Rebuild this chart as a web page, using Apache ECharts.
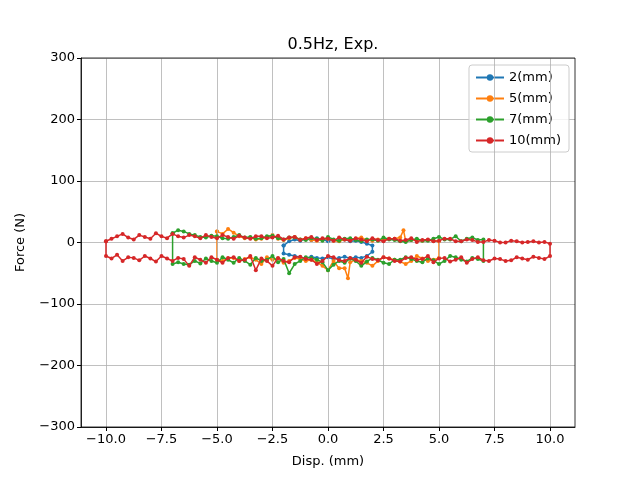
<!DOCTYPE html>
<html>
<head>
<meta charset="utf-8">
<script src="https://cdn.jsdelivr.net/npm/echarts@6/dist/echarts.min.js"></script>
<style>html,body{margin:0;padding:0;background:#fff}#c{width:640px;height:480px}</style>
</head>
<body>
<div id="c"></div>
<script>
// tick labels
const xTicks = [-10, -7.5, -5, -2.5, 0, 2.5, 5, 7.5, 10]
const seriesNames = ['2(mm)', '5(mm)', '7(mm)', '10(mm)']
const colors = ['#1f77b4', '#ff7f0e', '#2ca02c', '#d62728']

// 2mm loop: upper branch then lower branch
const loop2 = [
  [-2,-5],[-1.75,2],[-1.5,5],[-1.25,3],[-1,6],[-0.75,4],[-0.5,7],[-0.25,5],[0,2],[0.25,4],[0.5,3],[0.75,5],[1,2],[1.25,3],[1.5,1],[1.75,-2],[2,-5],
  [2,-15],[1.75,-22],[1.5,-25],[1.25,-24],[1,-26],[0.75,-23],[0.5,-25],[0.25,-27],[0,-24],[-0.25,-26],[-0.5,-25],[-0.75,-23],[-1,-26],[-1.25,-24],[-1.5,-22],[-1.75,-20],[-2,-18],[-2,-5]
]
// 5mm loop
const loop5 = [
  [-5,18],[-4.75,14],[-4.5,22],[-4.25,16],[-4,10],[-3.75,7],[-3.5,8],[-3.25,5],[-3,6],[-2.75,9],[-2.5,12],[-2.25,6],[-2,4],[-1.75,7],[-1.5,9],[-1.25,5],[-1,7],[-0.75,4],[-0.5,3],[-0.25,5],[0,6],[0.25,3],[0.5,2],[0.75,5],[1,4],[1.25,6],[1.5,8],[1.75,4],[2,3],[2.25,5],[2.5,4],[2.75,6],[3,6],[3.25,8],[3.4,20],[3.5,2],[3.75,4],[4,5],[4.25,3],[4.5,4],[4.75,3],[5,2],
  [5,-25],[4.75,-28],[4.5,-30],[4.25,-26],[4,-22],[3.75,-30],[3.5,-35],[3.25,-31],[3,-28],[2.75,-26],[2.5,-24],[2.25,-30],[2,-38],[1.75,-33],[1.5,-30],[1.25,-28],[1,-32],[0.9,-58],[0.75,-42],[0.5,-42],[0.25,-30],[0,-45],[-0.25,-38],[-0.5,-32],[-0.75,-28],[-1,-30],[-1.25,-27],[-1.5,-25],[-1.75,-30],[-2,-33],[-2.25,-26],[-2.5,-28],[-2.75,-24],[-3,-35],[-3.25,-28],[-3.5,-24],[-3.75,-27],[-4,-30],[-4.25,-25],[-4.5,-26],[-4.75,-30],[-5,-28],[-5,18]
]
// 7mm loop
const loop7 = [
  [-7,15],[-6.75,20],[-6.5,18],[-6.25,14],[-6,12],[-5.75,9],[-5.5,8],[-5.25,11],[-5,10],[-4.75,7],[-4.5,6],[-4.25,9],[-4,12],[-3.75,8],[-3.5,9],[-3.25,6],[-3,7],[-2.75,10],[-2.5,11],[-2.25,7],[-2,5],[-1.75,8],[-1.5,8],[-1.25,5],[-1,4],[-0.75,7],[-0.5,6],[-0.25,3],[0,9],[0.25,5],[0.5,3],[0.75,6],[1,7],[1.25,4],[1.5,2],[1.75,5],[2,5],[2.25,3],[2.5,8],[2.75,5],[3,4],[3.25,2],[3.5,1],[3.75,4],[4,6],[4.25,3],[4.5,3],[4.75,6],[5,9],[5.25,5],[5.5,5],[5.75,10],[6,2],[6.25,6],[6.5,8],[6.75,4],[7,5],
  [7,-30],[6.75,-27],[6.5,-25],[6.25,-31],[6,-28],[5.75,-24],[5.5,-22],[5.25,-30],[5,-35],[4.75,-29],[4.5,-26],[4.25,-32],[4,-30],[3.75,-27],[3.5,-24],[3.25,-28],[3,-28],[2.75,-35],[2.5,-33],[2.25,-28],[2,-25],[1.75,-31],[1.5,-38],[1.25,-30],[1,-26],[0.75,-33],[0.5,-30],[0.25,-36],[0,-45],[-0.25,-32],[-0.5,-28],[-0.75,-25],[-1,-24],[-1.25,-30],[-1.5,-35],[-1.75,-50],[-2,-27],[-2.25,-32],[-2.5,-22],[-2.75,-28],[-3,-30],[-3.25,-25],[-3.5,-36],[-3.75,-30],[-4,-25],[-4.25,-33],[-4.5,-28],[-4.75,-24],[-5,-33],[-5.25,-30],[-5.5,-26],[-5.75,-34],[-6,-30],[-6.25,-36],[-6.5,-35],[-6.75,-32],[-7,-35],[-7,15]
]
// 10mm loop
const loop10 = [
  [-10,2],[-9.75,6],[-9.5,10],[-9.25,14],[-9,8],[-8.75,5],[-8.5,12],[-8.25,9],[-8,6],[-7.75,15],[-7.5,10],[-7.25,7],[-7,14],[-6.75,10],[-6.5,8],[-6.25,12],[-6,10],[-5.75,7],[-5.5,12],[-5.25,9],[-5,7],[-4.75,12],[-4.5,9],[-4.25,6],[-4,11],[-3.75,8],[-3.5,6],[-3.25,10],[-3,10],[-2.75,7],[-2.5,8],[-2.25,11],[-2,5],[-1.75,8],[-1.5,9],[-1.25,4],[-1,7],[-0.75,9],[-0.5,4],[-0.25,7],[0,6],[0.25,3],[0.5,8],[0.75,5],[1,3],[1.25,7],[1.5,5],[1.75,2],[2,7],[2.25,4],[2.5,2],[2.75,6],[3,6],[3.25,3],[3.5,4],[3.75,7],[4,1],[4.25,4],[4.5,5],[4.75,2],[5,3],[5.25,6],[5.5,6],[5.75,2],[6,2],[6.25,5],[6.5,4],[6.75,1],[7,1],[7.25,4],[7.5,3],[7.75,0],[8,0],[8.25,3],[8.5,2],[8.75,0],[9,1],[9.25,2],[9.5,0],[9.75,1],[10,-2],
  [10,-22],[9.75,-27],[9.5,-25],[9.25,-23],[9,-28],[8.75,-26],[8.5,-24],[8.25,-29],[8,-30],[7.75,-27],[7.5,-26],[7.25,-30],[7,-29],[6.75,-24],[6.5,-27],[6.25,-33],[6,-24],[5.75,-28],[5.5,-31],[5.25,-25],[5,-26],[4.75,-32],[4.5,-22],[4.25,-27],[4,-28],[3.75,-24],[3.5,-25],[3.25,-31],[3,-30],[2.75,-26],[2.5,-24],[2.25,-29],[2,-27],[1.75,-23],[1.5,-33],[1.25,-28],[1,-25],[0.75,-30],[0.5,-29],[0.25,-24],[0,-22],[-0.25,-30],[-0.5,-35],[-0.75,-28],[-1,-27],[-1.25,-23],[-1.5,-24],[-1.75,-32],[-2,-30],[-2.25,-25],[-2.5,-38],[-2.75,-30],[-3,-26],[-3.25,-45],[-3.5,-22],[-3.75,-28],[-4,-30],[-4.25,-24],[-4.5,-25],[-4.75,-33],[-5,-28],[-5.25,-24],[-5.5,-33],[-5.75,-28],[-6,-24],[-6.25,-38],[-6.5,-27],[-6.75,-25],[-7,-30],[-7.25,-26],[-7.5,-22],[-7.75,-31],[-8,-26],[-8.25,-22],[-8.5,-29],[-8.75,-25],[-9,-24],[-9.25,-30],[-9.5,-20],[-9.75,-26],[-10,-22],[-10,2]
]
const loops = [loop2, loop5, loop7, loop10]

const font = 'DejaVu Sans'
const fmt = v => String(v).replace('-', '\u2212')
const fmtX = v => v.toFixed(1).replace('-', '\u2212')

const chart = echarts.init(document.getElementById('c'))

const series = loops.map((d, i) => ({
  name: seriesNames[i],
  type: 'line',
  data: d,
  color: colors[i],
  symbol: 'circle',
  symbolSize: 4,
  showSymbol: true,
  lineStyle: { width: 1.5 },
  animation: false,
  z: 3 + i
}))
// vertical grid lines at the x ticks
series.push({
  type: 'line',
  data: [],
  silent: true,
  markLine: {
    symbol: 'none',
    silent: true,
    animation: false,
    label: { show: false },
    lineStyle: { color: '#b0b0b0', type: 'solid', width: 0.8 },
    data: xTicks.map(v => ({ xAxis: v }))
  },
  z: 1
})

const option = {
  backgroundColor: '#fff',
  textStyle: { fontFamily: font },
  title: {
    text: '0.5Hz, Exp.',
    left: 328,
    top: 32,
    textAlign: 'center',
    textStyle: { fontFamily: font, fontSize: 16, fontWeight: 'normal', color: '#000' }
  },
  legend: {
    data: seriesNames,
    orient: 'vertical',
    right: 71,
    top: 65,
    itemGap: 8,
    itemWidth: 28,
    itemHeight: 8,
    padding: [6, 8, 5, 6],
    borderColor: '#ccc',
    borderWidth: 1,
    borderRadius: 3,
    backgroundColor: 'rgba(255,255,255,0.8)',
    textStyle: { fontFamily: font, fontSize: 13, color: '#000' }
  },
  grid: { left: 81, right: 65, top: 58, bottom: 53 },
  xAxis: {
    type: 'value',
    min: -11.125,
    max: 11.125,
    name: 'Disp. (mm)',
    nameLocation: 'middle',
    nameGap: 28,
    nameTextStyle: { fontFamily: font, fontSize: 13, color: '#000' },
    axisLine: { show: true, onZero: false, lineStyle: { color: '#000', width: 0.8 } },
    axisTick: { show: true, customValues: xTicks, length: 4, lineStyle: { color: '#000' } },
    axisLabel: { customValues: xTicks, formatter: fmtX, fontFamily: font, fontSize: 13, color: '#000', margin: 6 },
    splitLine: { show: false }
  },
  yAxis: {
    type: 'value',
    min: -300,
    max: 300,
    interval: 100,
    name: 'Force (N)',
    nameLocation: 'middle',
    nameGap: 54,
    nameTextStyle: { fontFamily: font, fontSize: 13, color: '#000' },
    axisLine: { show: true, onZero: false, lineStyle: { color: '#000', width: 0.8 } },
    axisTick: { show: true, length: 4, lineStyle: { color: '#000' } },
    axisLabel: { formatter: fmt, fontFamily: font, fontSize: 13, color: '#000', margin: 6 },
    splitLine: { show: true, lineStyle: { color: '#b0b0b0', width: 0.8 } }
  },
  graphic: [{
    type: 'rect',
    shape: { x: 81, y: 58, width: 494, height: 369 },
    style: { fill: 'none', stroke: '#000', lineWidth: 0.8 },
    silent: true,
    z: 100
  }],
  series: series
}
chart.setOption(option)
</script>
</body>
</html>
